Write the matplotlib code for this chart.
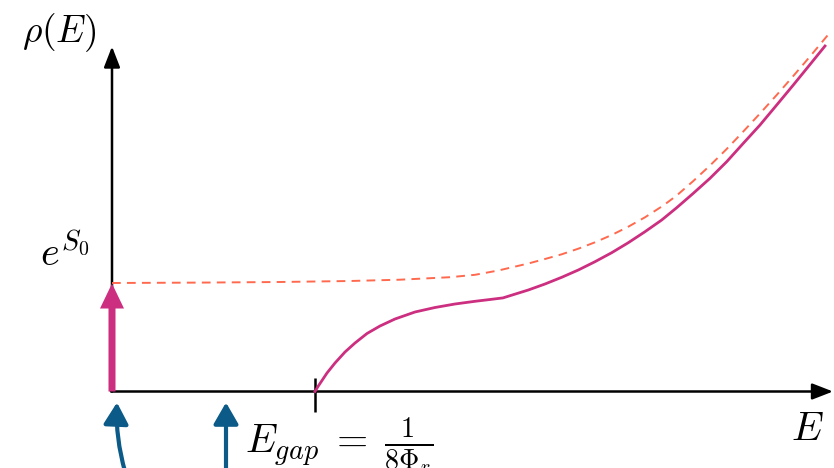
import matplotlib
matplotlib.use("Agg")
import matplotlib.pyplot as plt
from matplotlib.patches import FancyArrow, FancyArrowPatch

plt.rcParams["mathtext.fontset"] = "cm"

# Schematic density of states rho(E) (arbitrary units, origin at the axes corner)
E_gap = 203.0
delta_height = 108.0          # weight of the delta function at E = 0

# continuum above the gap (solid): saturating rise, then a kink and a growing tail
E_solid = [203, 206, 210, 215, 223, 233, 243, 255, 268, 283, 303, 323, 343, 363, 378, 391,
           398, 416.3, 433, 449.7, 466.3, 483, 499.7, 516.3, 533, 549.7, 564.7, 581.3,
           598, 614.7, 631.3, 648, 664.7, 681.3, 698, 713]
rho_solid = [0, 5, 11, 18.5, 28.5, 39.5, 48.5, 58, 65.5, 72.5, 79.5, 84, 87.5, 90.2, 92, 93.6,
             95.8, 101.5, 107.5, 114.2, 121.5, 129.8, 138.8, 148.8, 159.8, 171.5, 183.8, 198.2,
             213.2, 229.8, 248.2, 266.5, 286.5, 306.5, 327, 345.5]

# smooth reference curve (dashed)
E_dash = [0, 88, 168, 238, 288, 338, 363, 386.3, 416.3, 433, 449.7, 466.3, 483, 499.7,
          516.3, 533, 551.3, 564.7, 581.3, 598, 614.7, 631.3, 648, 664.7, 681.3, 698, 716.3]
rho_dash = [108.5, 108.9, 109.5, 110.5, 111.8, 114.3, 116.7, 121, 128, 132.5, 137.2, 142.8,
            149.2, 156.5, 164.8, 174.2, 186, 196, 210.5, 226, 242.5, 260, 278, 296.5, 315.5,
            335, 357]

MAGENTA = "#CC2E80"
DASH = "#FF6A4F"
BLUE = "#0B5A88"

fig = plt.figure(figsize=(8.34, 4.68), dpi=100)
ax = fig.add_axes([0, 0, 1, 1])
ax.set_xlim(-112, 722)
ax.set_ylim(-76.5, 391.5)
ax.axis("off")

# coordinate axes with arrow heads
ax.annotate("", xy=(0, 345), xytext=(0, 0),
            arrowprops=dict(arrowstyle="-|>,head_length=0.9,head_width=0.35", lw=1.8,
                            color="black", mutation_scale=14, shrinkA=0, shrinkB=0))
ax.annotate("", xy=(721, 0), xytext=(-1, 0),
            arrowprops=dict(arrowstyle="-|>,head_length=0.9,head_width=0.35", lw=1.8,
                            color="black", mutation_scale=14, shrinkA=0, shrinkB=0))

# gap tick
ax.plot([E_gap, E_gap], [13.5, -20.5], color="black", lw=1.8, solid_capstyle="butt")

# curves
ax.plot(E_dash, rho_dash, color=DASH, lw=1.4, dashes=(4.5, 3.2), zorder=3,
        solid_joinstyle="round")
ax.plot(E_solid, rho_solid, color=MAGENTA, lw=2.0, zorder=4, solid_joinstyle="round")

# delta-function spike
ax.add_patch(FancyArrow(0, 0, 0, delta_height, width=7, head_width=24, head_length=25,
                        length_includes_head=True, color=MAGENTA, lw=0, zorder=5))

# incoming arrows from below
ax.add_patch(FancyArrowPatch((13, -80), (5, -11),
                             connectionstyle="arc3,rad=-0.08",
                             arrowstyle="-|>,head_length=13,head_width=7.5",
                             lw=3, color=BLUE, shrinkA=0, shrinkB=0))
ax.add_patch(FancyArrowPatch((114, -80), (114, -11),
                             arrowstyle="-|>,head_length=13,head_width=7.5",
                             lw=3, color=BLUE, shrinkA=0, shrinkB=0))

# labels
ax.text(-53, 359, r"$\rho(E)$", fontsize=27, ha="center", va="center")
ax.text(-47, 137, r"$e^{S_0}$", fontsize=29, ha="center", va="center")
ax.text(695, -38, r"$E$", fontsize=29, ha="center", va="center")
ax.text(133, -61.5, r"$E_{gap}\;=\;\frac{1}{8\Phi_r}$", fontsize=29, ha="left",
        va="baseline")

fig.savefig("out.png", dpi=100)
